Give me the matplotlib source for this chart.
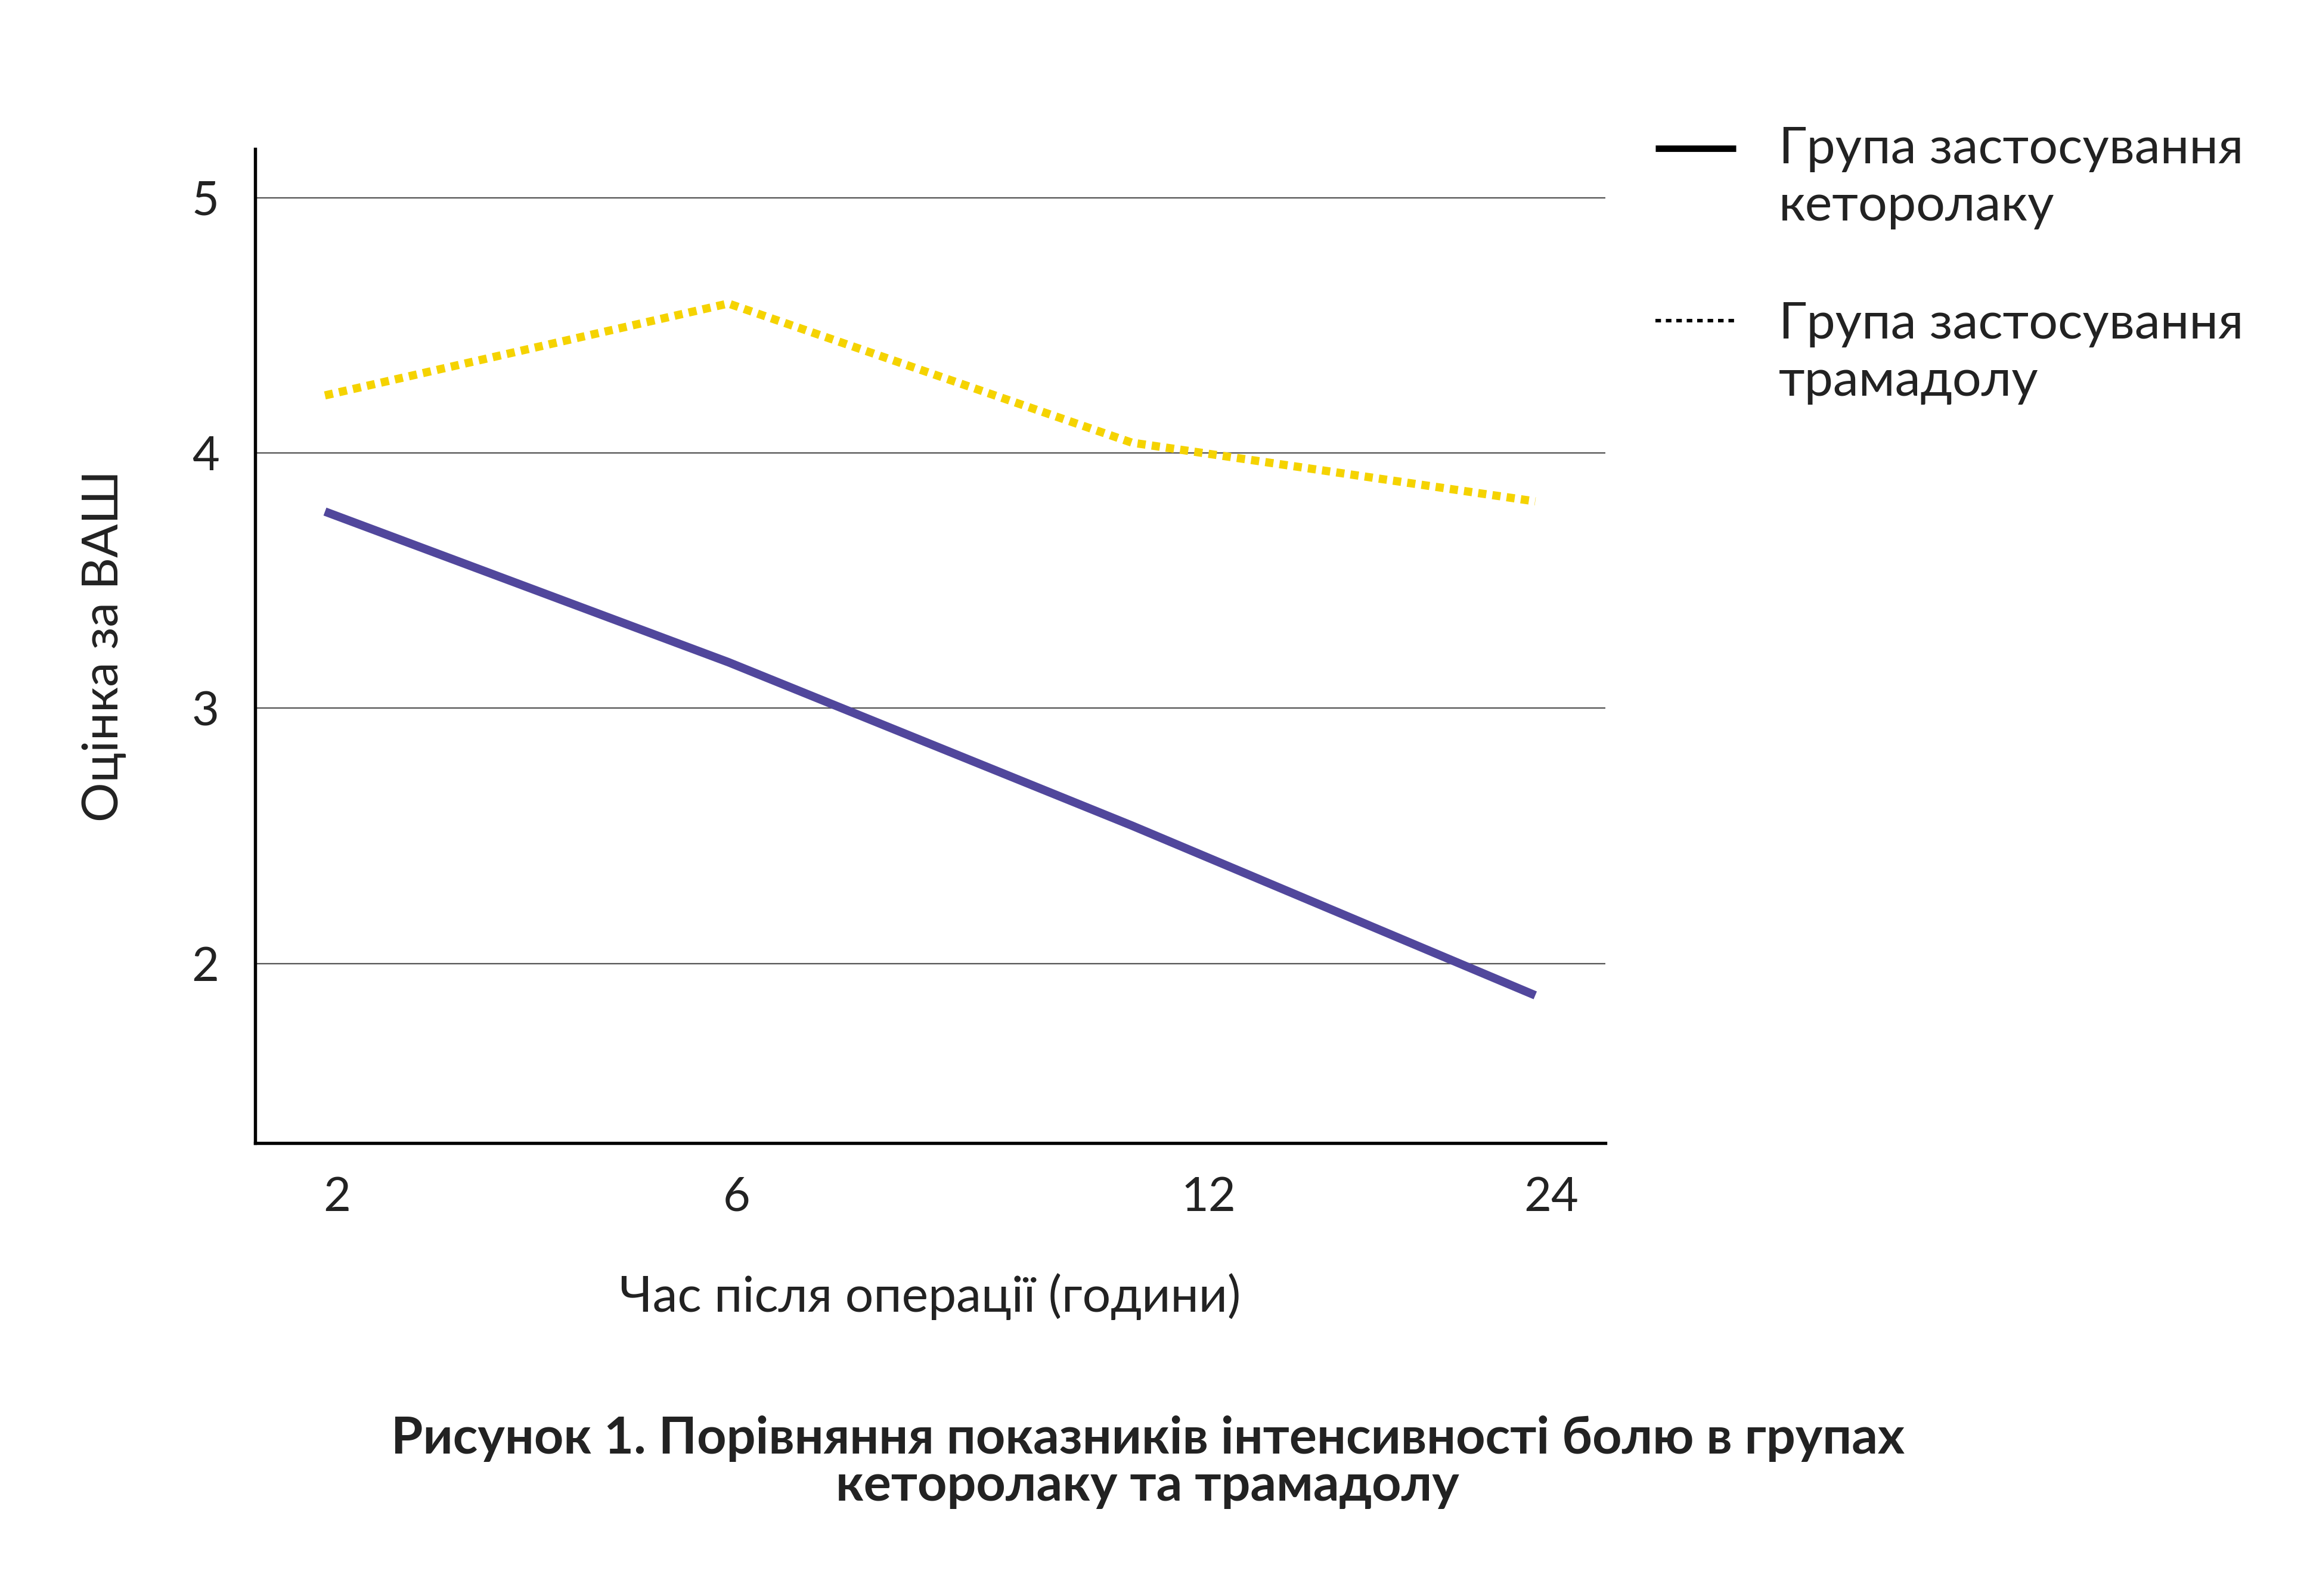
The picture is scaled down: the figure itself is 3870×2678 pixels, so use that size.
import numpy as np
import matplotlib
matplotlib.use("Agg")
import matplotlib.pyplot as plt
from matplotlib.lines import Line2D

plt.rcParams['font.family'] = ['Lato', 'DejaVu Sans']

# data
hours = ['2', '6', '12', '24']
ketorolac = [3.77, 3.18, 2.54, 1.875]
tramadol = [4.225, 4.585, 4.04, 3.81]
yticks = [2, 3, 4, 5]

label_keto = ['Група застосування', 'кеторолаку']
label_tram = ['Група застосування', 'трамадолу']
xlabel = 'Час після операції (години)'
ylabel = 'Оцінка за ВАШ'
caption = ['Рисунок 1. Порівняння показників інтенсивності болю в групах',
           'кеторолаку та трамадолу']

text_col = '#222222'
purple = '#51479c'
yellow = '#f5d300'

fig = plt.figure(figsize=(12.9, 8.9267), dpi=300)
ax = fig.add_axes([0.1106, 0.2839, 0.6959 - 0.1106, 0.9066 - 0.2839])

x = np.arange(len(hours))
ax.plot(x, ketorolac, color=purple, lw=3.4, solid_capstyle='butt', zorder=3)
ax.plot(x, tramadol, color=yellow, lw=3.3, linestyle=(0, (1, 0.75)),
        dash_capstyle='butt', zorder=3)

ax.set_xlim(-0.173, 3.174)
ax.set_ylim(1.297, 5.19)

# tick labels sit a little off the data points in the original
ax.set_xticks([0.03, 1.02, 2.19, 3.04])
ax.set_xticklabels(hours)
ax.set_yticks(yticks)
ax.set_yticklabels([str(v) for v in yticks])
ax.tick_params(axis='both', length=0, labelsize=19, labelcolor=text_col)
ax.tick_params(axis='y', pad=14.5)
ax.tick_params(axis='x', pad=13.5)

ax.grid(axis='y', color='#555555', lw=0.55)
ax.set_axisbelow(True)

for s in ['top', 'right']:
    ax.spines[s].set_visible(False)
for s in ['left', 'bottom']:
    ax.spines[s].set_linewidth(1.3)
    ax.spines[s].set_color('black')

ax.set_xlabel(xlabel, fontsize=20.2, color=text_col, labelpad=22)
ax.set_ylabel(ylabel, fontsize=20, color=text_col, labelpad=26)

# legend, drawn by hand so the key sits beside the first line of text
H = 1085.0
W = 1568.0
fig.add_artist(Line2D([1125 / W, 1180 / W], [1 - 101 / H] * 2, color='black',
                      lw=2.6, solid_capstyle='butt', transform=fig.transFigure))
fig.add_artist(Line2D([1125 / W, 1180 / W], [1 - 218 / H] * 2, color='black',
                      lw=1.4, linestyle=(0, (1.6, 1.4)), dash_capstyle='butt',
                      transform=fig.transFigure))
for lines, base in [(label_keto, 111), (label_tram, 230)]:
    for i, t in enumerate(lines):
        fig.text(1209 / W, 1 - (base + i * 39) / H, t, fontsize=20.7, color=text_col,
                 va='baseline', ha='left')

for i, t in enumerate(caption):
    fig.text(780 / W, 1 - (988 + i * 32) / H, t, fontsize=20.7, fontweight='bold',
             color=text_col, ha='center', va='baseline')

fig.savefig('out.png', dpi=300, facecolor='white')
